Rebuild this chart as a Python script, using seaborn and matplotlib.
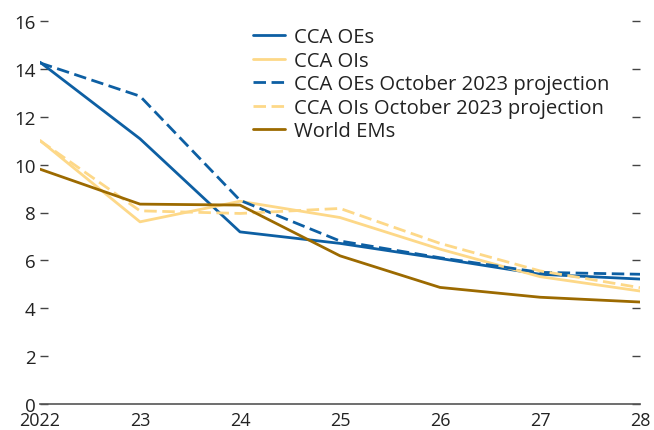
import matplotlib
matplotlib.use("Agg")
import matplotlib.pyplot as plt
import seaborn as sns
import pandas as pd

years = [2022, 2023, 2024, 2025, 2026, 2027, 2028]
year_labels = ["2022", "23", "24", "25", "26", "27", "28"]
cca_oes = [14.28, 11.08, 7.19, 6.71, 6.08, 5.42, 5.22]
cca_ois = [11.01, 7.61, 8.47, 7.79, 6.47, 5.32, 4.72]
cca_oes_oct = [14.25, 12.86, 8.51, 6.81, 6.11, 5.50, 5.42]
cca_ois_oct = [11.0, 8.07, 7.96, 8.17, 6.71, 5.56, 4.86]
world_ems = [9.81, 8.35, 8.31, 6.19, 4.87, 4.46, 4.26]

series_names = ["CCA OEs", "CCA OIs", "CCA OEs October 2023 projection",
                "CCA OIs October 2023 projection", "World EMs"]
series_vals = [cca_oes, cca_ois, cca_oes_oct, cca_ois_oct, world_ems]

df = pd.DataFrame([
    {"year": y, "value": v, "series": n}
    for n, vals in zip(series_names, series_vals)
    for y, v in zip(years, vals)
])

sns.set_theme(style="white")
plt.rcParams["font.family"] = ["Open Sans", "DejaVu Sans"]

blue = "#0d5fa3"
yellow = "#fdd888"
brown = "#9c6a00"
palette = {
    "CCA OEs": blue,
    "CCA OIs": yellow,
    "CCA OEs October 2023 projection": blue,
    "CCA OIs October 2023 projection": yellow,
    "World EMs": brown,
}
dashes = {
    "CCA OEs": "",
    "CCA OIs": "",
    "CCA OEs October 2023 projection": (4.5, 2),
    "CCA OIs October 2023 projection": (4.5, 2),
    "World EMs": "",
}

fig = plt.figure(figsize=(6.54, 4.31), dpi=100)
ax = fig.add_axes([40 / 654, 1 - 405 / 431, 600 / 654, 383 / 431])

sns.lineplot(data=df, x="year", y="value", hue="series", style="series",
             hue_order=series_names, style_order=series_names,
             palette=palette, dashes=dashes, linewidth=2, ax=ax)

ax.set_xlim(2022, 2028)
ax.set_ylim(0, 16)
ax.set_xticks(years)
ax.set_xticklabels(year_labels)
ax.set_yticks(range(0, 17, 2))
ax.set_xlabel("")
ax.set_ylabel("")

for side in ["top", "left", "right"]:
    ax.spines[side].set_visible(False)
ax.spines["bottom"].set_color("#555555")
ax.spines["bottom"].set_linewidth(1.2)

ax.tick_params(axis="x", direction="in", length=6, width=1, color="#444444",
               labelsize=13, labelcolor="#222222", pad=5)
ax.tick_params(axis="y", direction="in", length=6, width=1, color="#444444",
               labelsize=13.5, labelcolor="#222222", pad=3,
               left=True, right=True, labelleft=True, labelright=False)

leg = ax.legend(loc="upper left", bbox_to_anchor=(0.335, 1.015), frameon=False,
                fontsize=14.6, handlelength=1.55, handletextpad=0.45,
                labelspacing=0.17, borderaxespad=0.2)
for t in leg.get_texts():
    t.set_color("#222222")

fig.savefig("out.png", dpi=100)
